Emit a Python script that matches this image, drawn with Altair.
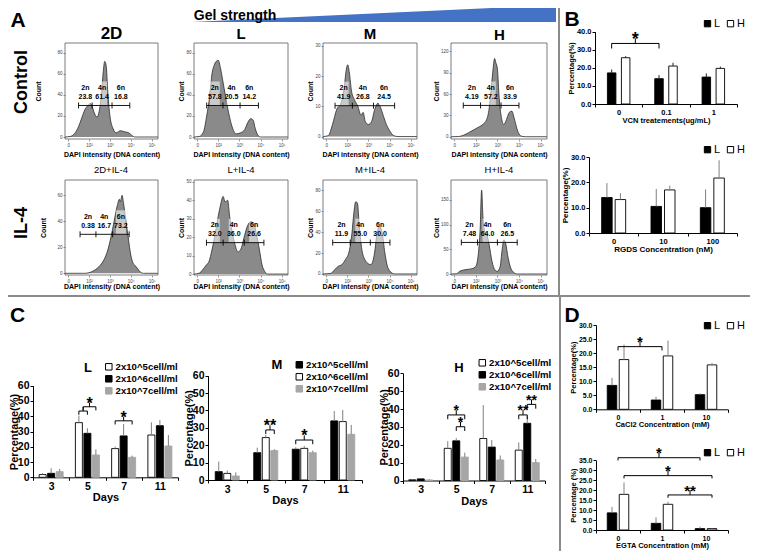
import altair as alt
import pandas as pd

# ======================= DATA =======================
# Panel A: DAPI (DNA content) histograms.
# x = DAPI intensity in decades (0 -> "0", 1 -> 10^2, 2 -> 10^3, 3 -> 10^4, 4 -> 10^5), y = count
CTRL_2D_X = [-0.15, 0.1, 0.3, 0.5, 0.65, 0.8, 0.95, 1.05, 1.15, 1.25, 1.38, 1.5, 1.6, 1.68, 1.75, 1.82, 1.9, 2.0, 2.15, 2.3, 2.5, 2.7, 2.9, 3.05, 3.2, 4.3]
CTRL_2D_Y = [0, 0.5, 3, 10, 18, 26, 30, 32, 29, 23, 19, 26, 42, 62, 72, 68, 42, 20, 8, 4, 6, 5, 4, 1.5, 0, 0]
CTRL_L_X = [-0.15, 0.1, 0.3, 0.45, 0.6, 0.7, 0.8, 0.9, 1.0, 1.1, 1.2, 1.35, 1.5, 1.65, 1.85, 2.05, 2.25, 2.4, 2.55, 2.65, 2.75, 2.9, 3.0, 4.3]
CTRL_L_Y = [0, 0.5, 5, 20, 40, 60, 68, 72, 73, 66, 55, 38, 22, 10, 3, 4, 7, 14, 17.5, 16, 8, 1, 0, 0]
CTRL_M_X = [-0.15, 0.1, 0.3, 0.5, 0.7, 0.85, 0.95, 1.02, 1.1, 1.2, 1.35, 1.5, 1.65, 1.75, 1.85, 2.0, 2.15, 2.3, 2.45, 2.55, 2.7, 2.85, 3.0, 3.2, 3.4, 4.3]
CTRL_M_Y = [0, 0.3, 4, 9, 11, 16, 22, 23.7, 21, 15, 12, 10, 7, 8, 5, 4, 5, 9, 11, 10, 7, 4, 2, 0.3, 0, 0]
CTRL_H_X = [-0.15, 0.2, 0.5, 0.8, 1.1, 1.35, 1.5, 1.62, 1.72, 1.8, 1.87, 1.93, 2.0, 2.07, 2.17, 2.3, 2.42, 2.55, 2.67, 2.78, 2.9, 3.0, 3.15, 3.3, 4.3]
CTRL_H_Y = [0, 0.3, 3, 8, 13, 18, 24, 40, 70, 95, 110, 104, 96, 60, 30, 17, 24, 34, 36, 26, 12, 4, 0.5, 0, 0]
IL4_2D_X = [-0.15, 0.8, 1.1, 1.4, 1.7, 1.9, 2.05, 2.2, 2.35, 2.45, 2.5, 2.58, 2.65, 2.75, 2.87, 3.0, 3.1, 3.2, 3.3, 3.45, 3.6, 4.3]
IL4_2D_Y = [0, 0, 1, 4, 10, 18, 28, 40, 52, 57, 55, 60, 54, 42, 28, 14, 8, 6, 4, 1, 0, 0]
IL4_L_X = [-0.15, 0.1, 0.26, 0.44, 0.56, 0.7, 0.84, 0.96, 1.09, 1.23, 1.32, 1.44, 1.54, 1.67, 1.79, 1.93, 2.07, 2.21, 2.37, 2.54, 2.68, 2.8, 2.95, 3.07, 3.2, 3.33, 4.3]
IL4_L_Y = [0, 0.5, 2.3, 5, 6.8, 13, 21, 29, 36.5, 42, 39, 40, 31, 22, 16, 12, 13.5, 19.4, 25.7, 28.4, 27.5, 22, 13, 5, 1.4, 0, 0]
IL4_M_X = [-0.15, 0.22, 0.4, 0.57, 0.74, 0.91, 1.09, 1.22, 1.31, 1.4, 1.48, 1.57, 1.69, 1.83, 1.95, 2.12, 2.29, 2.41, 2.52, 2.64, 2.78, 2.9, 3.07, 3.24, 4.3]
IL4_M_Y = [0, 0.5, 4, 7.3, 8.9, 13.7, 21.6, 39, 58, 69, 67.6, 45.4, 23.2, 13.7, 10.5, 8.9, 20, 39, 45.4, 40.6, 20, 7.3, 1.6, 0, 0]
IL4_H_X = [-0.15, 0.1, 0.25, 0.5, 0.83, 1.0, 1.12, 1.2, 1.27, 1.33, 1.42, 1.52, 1.62, 1.75, 1.88, 2.0, 2.13, 2.22, 2.3, 2.38, 2.5, 2.62, 2.75, 2.92, 4.3]
IL4_H_Y = [0, 0.5, 5.4, 8.7, 10.8, 15.5, 42, 89.5, 170, 116, 86, 79, 59, 25.6, 8.7, 5.4, 15.5, 49, 69.3, 62.6, 32.3, 12, 3.4, 0, 0]

# gates: 2n | 4n | 6n boundaries (decades), gate height (count), gate percentages
CTRL_2D_GATE, CTRL_2D_GATE_Y, CTRL_2D_PCT = [0.5, 1.15, 2.1, 2.95], 30, ["23.8", "61.4", "16.8"]
CTRL_L_GATE, CTRL_L_GATE_Y, CTRL_L_PCT = [0.45, 1.22, 2.03, 2.9], 30, ["57.8", "20.5", "14.2"]
CTRL_M_GATE, CTRL_M_GATE_Y, CTRL_M_PCT = [0.42, 1.24, 2.24, 3.24], 10.2, ["41.9", "26.8", "24.5"]
CTRL_H_GATE, CTRL_H_GATE_Y, CTRL_H_PCT = [0.42, 1.22, 2.17, 3.0], 44, ["4.19", "57.2", "33.9"]
IL4_2D_GATE, IL4_2D_GATE_Y, IL4_2D_PCT = [0.57, 1.33, 2.13, 2.92], 30, ["0.38", "16.7", "73.2"]
IL4_L_GATE, IL4_L_GATE_Y, IL4_L_PCT = [0.44, 1.23, 2.23, 3.16], 17, ["32.0", "36.0", "26.6"]
IL4_M_GATE, IL4_M_GATE_Y, IL4_M_PCT = [0.31, 1.14, 2.09, 3.02], 30, ["11.9", "55.0", "30.0"]
IL4_H_GATE, IL4_H_GATE_Y, IL4_H_PCT = [0.33, 1.08, 2.0, 2.92], 64, ["7.48", "64.0", "26.5"]

# count axes: domain and ticks
CTRL_2D_YDOM, CTRL_2D_YTICKS = [-1.9, 89.5], [0, 20, 40, 60, 80]
CTRL_L_YDOM, CTRL_L_YTICKS = [-1.9, 89.5], [0, 20, 40, 60, 80]
CTRL_M_YDOM, CTRL_M_YTICKS = [-0.8, 30.9], [0, 10, 20, 30]
CTRL_H_YDOM, CTRL_H_YTICKS = [-3.2, 131.8], [0, 30, 60, 90, 120]
IL4_2D_YDOM, IL4_2D_YTICKS = [-1.3, 71.8], [0, 20, 40, 60]
IL4_L_YDOM, IL4_L_YTICKS = [-0.5, 50.9], [0, 10, 20, 30, 40, 50]
IL4_M_YDOM, IL4_M_YTICKS = [-1.0, 89.8], [0, 20, 40, 60, 80]
IL4_H_YDOM, IL4_H_YTICKS = [-2.0, 190.5], [0, 50, 100, 150]

# Panel B
LH = ["L", "H"]
VCN_DOSE = ["0", "0.1", "1"]
VCN_L, VCN_L_ERR = [17.2, 14.0, 14.9], [1.9, 2.0, 2.0]
VCN_H, VCN_H_ERR = [25.6, 21.0, 19.7], [0.9, 1.8, 1.0]
RGDS_DOSE = ["0", "10", "100"]
RGDS_L, RGDS_L_ERR = [14.0, 10.5, 10.0], [5.7, 6.9, 7.2]
RGDS_H, RGDS_H_ERR = [13.2, 17.0, 21.7], [2.5, 1.7, 7.0]

# Panel C
DAYS = ["3", "5", "7", "11"]
DENS = ["2x10^5cell/ml", "2x10^6cell/ml", "2x10^7cell/ml"]
CL_5, CL_5_ERR = [1.8, 35.8, 18.8, 27.7], [1.0, 4.6, 1.3, 8.3]
CL_6, CL_6_ERR = [2.6, 28.8, 27.1, 33.8], [3.3, 3.3, 7.8, 3.8]
CL_7, CL_7_ERR = [3.7, 14.6, 13.1, 20.5], [1.8, 3.7, 1.1, 7.2]
CM_5, CM_5_ERR = [4.8, 15.7, 17.7, 34.0], [5.8, 2.9, 1.1, 5.7]
CM_6, CM_6_ERR = [3.8, 24.4, 18.2, 33.6], [1.6, 1.5, 1.4, 6.7]
CM_7, CM_7_ERR = [2.3, 16.9, 15.7, 26.3], [2.1, 0.8, 1.2, 5.4]
CH_5, CH_5_ERR = [0.4, 18.0, 23.5, 17.0], [0.3, 4.0, 18.7, 4.3]
CH_6, CH_6_ERR = [0.9, 22.2, 18.7, 32.0], [0.3, 1.5, 4.0, 4.0]
CH_7, CH_7_ERR = [0.3, 13.1, 11.5, 10.0], [0.3, 2.5, 2.5, 2.0]

# Panel D
CA_DOSE = ["0", "1", "10"]
CA_L, CA_L_ERR = [8.5, 3.3, 5.2], [2.7, 1.2, 0.5]
CA_H, CA_H_ERR = [17.7, 19.0, 15.8], [5.3, 5.5, 0.7]
EGTA_DOSE = ["0", "1", "10"]
EGTA_L, EGTA_L_ERR = [8.6, 3.35, 0.7], [3.0, 3.0, 1.0]
EGTA_H, EGTA_H_ERR = [17.9, 12.9, 0.7], [6.0, 1.3, 0.3]

# significance brackets: (group, series) endpoints, bracket level, label
VCN_SIG = [((0, 0), (1, 0), 33.5, "*")]
CL_SIG = [((1, 0), (1, 1), 43.4, ""), ((1, 0.5), (1, 2), 46.2, "*"), ((2, 0), (2, 2), 37.0, "*")]
CM_SIG = [((1, 1), (1, 2), 28.8, "**"), ((2, 0), (2, 2), 23.0, "*")]
CH_SIG = [((1, 0), (1, 2), 36.7, "*"), ((1, 1), (1, 2), 30.1, "*"), ((3, 0), (3, 1), 36.7, "**"), ((3, 1), (3, 2), 42.6, "**")]
CA_SIG = [((0, 0.5), (1, 0.5), 22.3, "*")]
EGTA_SIG = [((0, 0.5), (2, 0), 36.3, "*"), ((0, 1), (2, 1), 27.3, "*"), ((1, 1), (2, 1), 17.6, "**")]

GEL_RAMP = [0, 1]

# ======================= STYLE / LAYOUT =======================
FONT = "Liberation Sans"
W, H = 742, 543
MARGIN = 8
ONE = pd.DataFrame({"k": [0]})
WHITE, BLACK, GRAY = "#ffffff", "#000000", "#a6a6a6"


def cx(v):
    return v - MARGIN


def cy(v):
    return v - MARGIN


def label(txt, x, y, size, weight="bold", angle=0, align="center", baseline="middle"):
    return alt.Chart(ONE).mark_text(text=txt, font=FONT, fontSize=size, fontWeight=weight, angle=angle,
                                    align=align, baseline=baseline, color="black").encode(
        x=alt.value(cx(x)), y=alt.value(cy(y)))


BOX_PATH = "M-1,-4.8L1,-4.8L1,0L-1,0Z"
TICK_PATH = "M0,-1L0,1"


def histogram(p):
    x0, y0, x1, y1 = p["box"]
    ylo, yhi = p["ydom"]
    xs = alt.Scale(domain=[-0.15, 4.3], range=[cx(x0), cx(x1)], nice=False, zero=False)
    ys = alt.Scale(domain=[ylo, yhi], range=[cy(y1), cy(y0)], nice=False, zero=False)
    g, lv = p["gate"], p["gate_y"]
    curve = pd.DataFrame({"d": p["x"], "c": p["y"]})
    segs = pd.DataFrame({"d": [(g[i] + g[i + 1]) / 2 for i in range(3)], "lv": [lv] * 3,
                         "name": ["2n", "4n", "6n"], "pct": p["pct"]})
    bounds = pd.DataFrame({"d": g, "lv": [lv] * 4})
    gate = pd.DataFrame({"a": [g[0]], "b": [g[-1]], "lv": [lv]})
    frame = pd.DataFrame({"a": [-0.15], "b": [4.3], "lo": [ylo], "hi": [yhi]})
    xaxis = alt.Axis(orient="bottom", offset=cy(y1) - H, values=[0, 1, 2, 3, 4],
                     labelExpr="['0','10²','10³','10⁴','10⁵'][datum.value]",
                     labelFont=FONT, labelFontSize=4.5, labelColor="#444444", labelPadding=1,
                     tickSize=2, tickColor="#555555", tickWidth=0.6, domain=False, grid=False,
                     title="DAPI intensity (DNA content)", titleFont=FONT, titleFontSize=7,
                     titleFontWeight="bold", titleColor="black", titlePadding=p["xtp"])
    yaxis = alt.Axis(orient="left", offset=-cx(x0), values=p["yticks"], labelFont=FONT, labelFontSize=4.5,
                     labelColor="#444444", labelPadding=1, tickSize=2, tickColor="#555555", tickWidth=0.6,
                     domain=False, grid=False, title="Count", titleFont=FONT, titleFontSize=7,
                     titleFontWeight="bold", titleColor="black", titlePadding=p["ytp"])
    area = alt.Chart(curve).mark_area(color="#8a8a8a", opacity=1, fillOpacity=1, interpolate="monotone",
                                      line={"color": "#2b2b2b", "strokeWidth": 0.8}).encode(
        x=alt.X("d:Q", scale=xs, axis=xaxis), y=alt.Y("c:Q", scale=ys, axis=yaxis))
    box = alt.Chart(frame).mark_rect(fillOpacity=0, stroke="#5a5a5a", strokeWidth=0.8).encode(
        x=alt.X("a:Q", scale=xs, axis=None), x2="b:Q", y=alt.Y("lo:Q", scale=ys, axis=None), y2="hi:Q")
    shade = alt.Chart(segs).mark_point(shape=BOX_PATH, size=100, filled=True, color="white",
                                       opacity=0.55, strokeWidth=0).encode(
        x=alt.X("d:Q", scale=xs, axis=None), y=alt.Y("lv:Q", scale=ys, axis=None))
    gline = alt.Chart(gate).mark_rule(color="black", strokeWidth=0.9).encode(
        x=alt.X("a:Q", scale=xs, axis=None), x2="b:Q", y=alt.Y("lv:Q", scale=ys, axis=None))
    gticks = alt.Chart(bounds).mark_point(shape=TICK_PATH, size=36, filled=False, color="black",
                                          strokeWidth=0.9, opacity=1).encode(
        x=alt.X("d:Q", scale=xs, axis=None), y=alt.Y("lv:Q", scale=ys, axis=None))
    names = alt.Chart(segs).mark_text(font=FONT, fontSize=7, fontWeight="bold", color="black",
                                      baseline="middle", dy=-17.5).encode(
        x=alt.X("d:Q", scale=xs, axis=None), y=alt.Y("lv:Q", scale=ys, axis=None), text="name:N")
    pcts = alt.Chart(segs).mark_text(font=FONT, fontSize=7, fontWeight="bold", color="black",
                                     baseline="middle", dy=-8.5).encode(
        x=alt.X("d:Q", scale=xs, axis=None), y=alt.Y("lv:Q", scale=ys, axis=None), text="pct:N")
    return [area, box, shade, gline, gticks, names, pcts]


def bar_panel(cats, series, values, errors, fills, strokes, lay, sig, leg):
    x0, x1 = lay["xr"]
    yz, yt = lay["yr"]
    n, k = len(cats), len(series)
    step = (x1 - x0) / n
    w, gp = lay["bar"], lay["gap"]
    so = w + gp
    pin = gp / so
    pout = (step - (k * w + (k - 1) * gp)) / (2 * so)

    def centre(s):
        return (pout + s + (1 - pin) / 2) * so / step

    rows = []
    for j, s in enumerate(series):
        for i, c in enumerate(cats):
            rows.append({"cat": c, "ser": s, "v": values[j][i], "top": values[j][i] + errors[j][i]})
    df = pd.DataFrame(rows)
    xs = alt.Scale(domain=cats, range=[cx(x0), cx(x1)], paddingInner=0, paddingOuter=0)
    xo = alt.Scale(domain=series, paddingInner=pin, paddingOuter=pout)
    ys = alt.Scale(domain=lay["ydom"], range=[cy(yz), cy(yt)], nice=False, zero=False)
    fs = lay["fs"]
    xaxis = alt.Axis(orient="bottom", offset=cy(yz) - H, tickBand="extent", labelAngle=0,
                     labelFont=FONT, labelFontSize=fs, labelFontWeight="bold", labelColor="black",
                     labelPadding=lay["lp"], tickSize=lay["tick"], tickColor="black", domainColor="black",
                     domainWidth=1, grid=False, title=lay["xtitle"], titleFont=FONT,
                     titleFontSize=lay["tfs"], titleFontWeight="bold", titleColor="black",
                     titlePadding=lay["xtp"])
    yaxis = alt.Axis(orient="left", offset=-cx(x0), values=lay["yticks"], format=lay["fmt"],
                     labelFont=FONT, labelFontSize=fs, labelFontWeight="bold", labelColor="black",
                     labelPadding=lay["lp"], tickSize=lay["tick"], tickColor="black", domainColor="black",
                     domainWidth=1, grid=False, title=lay["ytitle"], titleFont=FONT,
                     titleFontSize=lay["tfs"], titleFontWeight="bold", titleColor="black",
                     titlePadding=lay["ytp"])
    legend = alt.Legend(orient="none", legendX=cx(leg["x"]), legendY=cy(leg["y"]), direction=leg["dir"],
                        columns=leg["cols"], title=None, symbolType="square", symbolSize=leg["sym"],
                        symbolStrokeWidth=1, labelFont=FONT, labelFontSize=leg["fs"],
                        labelFontWeight=leg["fw"], labelColor="black", rowPadding=leg["rp"],
                        columnPadding=leg["cp"], padding=0, labelOffset=leg["lo"])
    bars = alt.Chart(df).mark_bar(strokeWidth=0.9).encode(
        x=alt.X("cat:N", sort=cats, scale=xs, axis=xaxis),
        xOffset=alt.XOffset("ser:N", sort=series, scale=xo),
        y=alt.Y("v:Q", scale=ys, axis=yaxis),
        fill=alt.Fill("ser:N", sort=series, scale=alt.Scale(domain=series, range=fills), legend=legend),
        stroke=alt.Stroke("ser:N", sort=series, scale=alt.Scale(domain=series, range=strokes), legend=legend))
    errs = alt.Chart(df).mark_rule(color=lay["errc"], strokeWidth=1).encode(
        x=alt.X("cat:N", sort=cats, scale=xs, axis=None),
        xOffset=alt.XOffset("ser:N", sort=series, scale=xo),
        y=alt.Y("v:Q", scale=ys, axis=None), y2="top:Q")
    out = [bars, errs]
    if sig:
        span = lay["ydom"][1] - lay["ydom"][0]
        leg_len, tick_len = lay["leg"] * span, lay["tk"] * span
        segs, stars = [], []
        for (ga, sa), (gb, sb), lvl, txt in sig:
            xa, xb = ga + centre(sa), gb + centre(sb)
            xm = (xa + xb) / 2
            segs += [(xa, xb, lvl, lvl), (xa, xa, lvl - leg_len, lvl), (xb, xb, lvl - leg_len, lvl),
                     (xm, xm, lvl, lvl + tick_len)]
            if txt:
                stars.append((xm, lvl + tick_len, txt))
        sdf = pd.DataFrame(segs, columns=["x", "x2", "y", "y2"])
        xq = alt.Scale(domain=[0, n], range=[cx(x0), cx(x1)], nice=False, zero=False)
        out.append(alt.Chart(sdf).mark_rule(color="black", strokeWidth=1).encode(
            x=alt.X("x:Q", scale=xq, axis=None), x2="x2:Q",
            y=alt.Y("y:Q", scale=ys, axis=None), y2="y2:Q"))
        if stars:
            tdf = pd.DataFrame(stars, columns=["x", "y", "t"])
            sfs = lay["sfs"]
            out.append(alt.Chart(tdf).mark_text(font=FONT, fontSize=sfs, fontWeight="bold", color="black",
                                                baseline="alphabetic", dy=0.43 * sfs - 1).encode(
                x=alt.X("x:Q", scale=xq, axis=None), y=alt.Y("y:Q", scale=ys, axis=None), text="t:N"))
    return out


# ======================= BUILD =======================
layers = []

# frame lines between panels
for spec in [dict(x=alt.value(cx(559)), y=alt.value(0), y2=alt.value(cy(296))),
             dict(x=alt.value(0), x2=alt.value(W), y=alt.value(cy(296))),
             dict(x=alt.value(cx(560)), y=alt.value(cy(296)), y2=alt.value(H))]:
    layers.append(alt.Chart(ONE).mark_rule(color="#8a8a8a", strokeWidth=2).encode(**spec))

# gel strength wedge
layers.append(alt.Chart(pd.DataFrame({"s": GEL_RAMP})).mark_area(color="#4472C4", opacity=1).encode(
    x=alt.X("s:Q", scale=alt.Scale(domain=[0, 1], range=[cx(192), cx(556)]), axis=None),
    y=alt.Y("s:Q", scale=alt.Scale(domain=[0, 1], range=[cy(22), cy(5)]), axis=None)))

COLS = [(65, 158), (194, 288), (323, 417), (451, 547)]
ROW1, ROW2 = (43, 139), (180, 275)
hists = [
    dict(x=CTRL_2D_X, y=CTRL_2D_Y, gate=CTRL_2D_GATE, gate_y=CTRL_2D_GATE_Y, pct=CTRL_2D_PCT, ydom=CTRL_2D_YDOM, yticks=CTRL_2D_YTICKS, col=0, row=ROW1, ytp=15, xtp=4),
    dict(x=CTRL_L_X, y=CTRL_L_Y, gate=CTRL_L_GATE, gate_y=CTRL_L_GATE_Y, pct=CTRL_L_PCT, ydom=CTRL_L_YDOM, yticks=CTRL_L_YTICKS, col=1, row=ROW1, ytp=1, xtp=4),
    dict(x=CTRL_M_X, y=CTRL_M_Y, gate=CTRL_M_GATE, gate_y=CTRL_M_GATE_Y, pct=CTRL_M_PCT, ydom=CTRL_M_YDOM, yticks=CTRL_M_YTICKS, col=2, row=ROW1, ytp=1, xtp=4),
    dict(x=CTRL_H_X, y=CTRL_H_Y, gate=CTRL_H_GATE, gate_y=CTRL_H_GATE_Y, pct=CTRL_H_PCT, ydom=CTRL_H_YDOM, yticks=CTRL_H_YTICKS, col=3, row=ROW1, ytp=1, xtp=4),
    dict(x=IL4_2D_X, y=IL4_2D_Y, gate=IL4_2D_GATE, gate_y=IL4_2D_GATE_Y, pct=IL4_2D_PCT, ydom=IL4_2D_YDOM, yticks=IL4_2D_YTICKS, col=0, row=ROW2, ytp=10, xtp=0),
    dict(x=IL4_L_X, y=IL4_L_Y, gate=IL4_L_GATE, gate_y=IL4_L_GATE_Y, pct=IL4_L_PCT, ydom=IL4_L_YDOM, yticks=IL4_L_YTICKS, col=1, row=ROW2, ytp=1, xtp=0),
    dict(x=IL4_M_X, y=IL4_M_Y, gate=IL4_M_GATE, gate_y=IL4_M_GATE_Y, pct=IL4_M_PCT, ydom=IL4_M_YDOM, yticks=IL4_M_YTICKS, col=2, row=ROW2, ytp=1, xtp=0),
    dict(x=IL4_H_X, y=IL4_H_Y, gate=IL4_H_GATE, gate_y=IL4_H_GATE_Y, pct=IL4_H_PCT, ydom=IL4_H_YDOM, yticks=IL4_H_YTICKS, col=3, row=ROW2, ytp=1, xtp=0),
]
for h in hists:
    c0, c1 = COLS[h["col"]]
    h["box"] = (c0, h["row"][0], c1, h["row"][1])
    layers += histogram(h)

# panel B
B_LEG = dict(dir="horizontal", cols=2, sym=40, fs=11, fw="normal", rp=0, cp=4, lo=1)
layers += bar_panel(VCN_DOSE, LH, [VCN_L, VCN_H], [VCN_L_ERR, VCN_H_ERR], [BLACK, WHITE], [BLACK, BLACK],
                    dict(xr=(595, 737), yr=(104, 31.7), ydom=[0, 40], yticks=[0, 10, 20, 30, 40], fmt=".1f",
                         bar=8.5, gap=5.5, fs=7.5, tfs=7.5, lp=1, tick=3, xtp=1, ytp=1, errc="#222222",
                         xtitle="VCN treatements(ug/mL)", ytitle="Percentage(%)", leg=0.07, tk=0.07, sfs=18),
                    VCN_SIG, dict(B_LEG, x=702, y=18))
layers += bar_panel(RGDS_DOSE, LH, [RGDS_L, RGDS_H], [RGDS_L_ERR, RGDS_H_ERR], [BLACK, WHITE], [BLACK, BLACK],
                    dict(xr=(589, 737), yr=(233, 157), ydom=[0, 30], yticks=[0, 10, 20, 30], fmt=".1f",
                         bar=10.5, gap=3, fs=7.5, tfs=8, lp=1, tick=3, xtp=1, ytp=1, errc="#808080",
                         xtitle="RGDS Concentration (nM)", ytitle="Percentage(%)", leg=0.05, tk=0.05, sfs=18),
                    [], dict(B_LEG, x=702, y=144))

# panel C
C_LAY = dict(ydom=[0, 60], yticks=[0, 10, 20, 30, 40, 50, 60], fmt="d", bar=7, gap=1.5, fs=10.5, tfs=11,
             lp=1, tick=3, xtp=0, ytp=-2, errc="#7f7f7f", xtitle="Days", ytitle="Percentage(%)",
             leg=0.04, tk=0.045, sfs=16)
C_LEG = dict(dir="vertical", cols=1, sym=42, fs=9.6, fw="bold", rp=0, cp=0, lo=2)
layers += bar_panel(DAYS, DENS, [CL_5, CL_6, CL_7], [CL_5_ERR, CL_6_ERR, CL_7_ERR], [WHITE, BLACK, GRAY],
                    [BLACK, BLACK, GRAY], dict(C_LAY, xr=(33, 178), yr=(477.3, 385.7)), CL_SIG,
                    dict(C_LEG, x=104, y=362))
layers += bar_panel(DAYS, DENS, [CM_5, CM_6, CM_7], [CM_5_ERR, CM_6_ERR, CM_7_ERR], [BLACK, WHITE, GRAY],
                    [BLACK, BLACK, GRAY], dict(C_LAY, xr=(208, 362), yr=(480, 375.7)), CM_SIG,
                    dict(C_LEG, x=294.5, y=360))
layers += bar_panel(DAYS, DENS, [CH_5, CH_6, CH_7], [CH_5_ERR, CH_6_ERR, CH_7_ERR], [WHITE, BLACK, GRAY],
                    [BLACK, BLACK, GRAY], dict(C_LAY, xr=(403, 545), yr=(480.5, 373.3), sfs=14), CH_SIG,
                    dict(C_LEG, x=477.5, y=358))

# panel D
D_LAY = dict(fmt=".1f", bar=9.5, gap=2.5, fs=7, tfs=7.5, lp=1, tick=3, xtp=0, ytp=1, errc="#808080",
             ytitle="Percentage(%)", sfs=15)
layers += bar_panel(CA_DOSE, LH, [CA_L, CA_H], [CA_L_ERR, CA_H_ERR], [BLACK, WHITE], [BLACK, BLACK],
                    dict(D_LAY, xr=(596, 728), yr=(409.3, 325), ydom=[0, 30], yticks=[0, 5, 10, 15, 20, 25, 30],
                         xtitle="CaCl2 Concentration (mM)", leg=0.045, tk=0.055),
                    CA_SIG, dict(B_LEG, x=702, y=320))
layers += bar_panel(EGTA_DOSE, LH, [EGTA_L, EGTA_H], [EGTA_L_ERR, EGTA_H_ERR], [BLACK, WHITE], [BLACK, BLACK],
                    dict(D_LAY, xr=(596, 728), yr=(530, 460.3), ydom=[0, 35],
                         yticks=[0, 5, 10, 15, 20, 25, 30, 35], xtitle="EGTA Concentration (mM)",
                         ytitle="Percentage (%)", leg=0.04, tk=0.07),
                    EGTA_SIG, dict(B_LEG, x=702, y=447))

# text labels
layers += [
    label("A", 18, 20.5, 21), label("B", 572, 20, 21), label("C", 17.5, 316, 21), label("D", 572, 315.5, 21),
    label("Gel strength", 235, 15.5, 14),
    label("Control", 22, 82, 18, angle=270), label("IL-4", 22, 223, 18, angle=270),
    label("2D", 111.5, 33.5, 17), label("L", 241, 34, 15), label("M", 370, 34, 15), label("H", 499.5, 35, 15),
    label("2D+IL-4", 111, 170, 9.5, weight="normal"), label("L+IL-4", 241, 169.5, 9.5, weight="normal"),
    label("M+IL-4", 370, 170, 9.5, weight="normal"), label("H+IL-4", 499, 170, 9.5, weight="normal"),
    label("L", 88, 368, 13), label("M", 277, 365, 13), label("H", 459, 368, 13),
]

chart = alt.layer(*layers).resolve_scale(
    x="independent", y="independent", xOffset="independent", fill="independent",
    stroke="independent", color="independent"
).properties(
    width=W, height=H, padding=0, autosize=alt.AutoSizeParams(type="none")
).configure_view(stroke=None)

chart.save("out.html", embed_options={"renderer": "svg", "actions": False})
